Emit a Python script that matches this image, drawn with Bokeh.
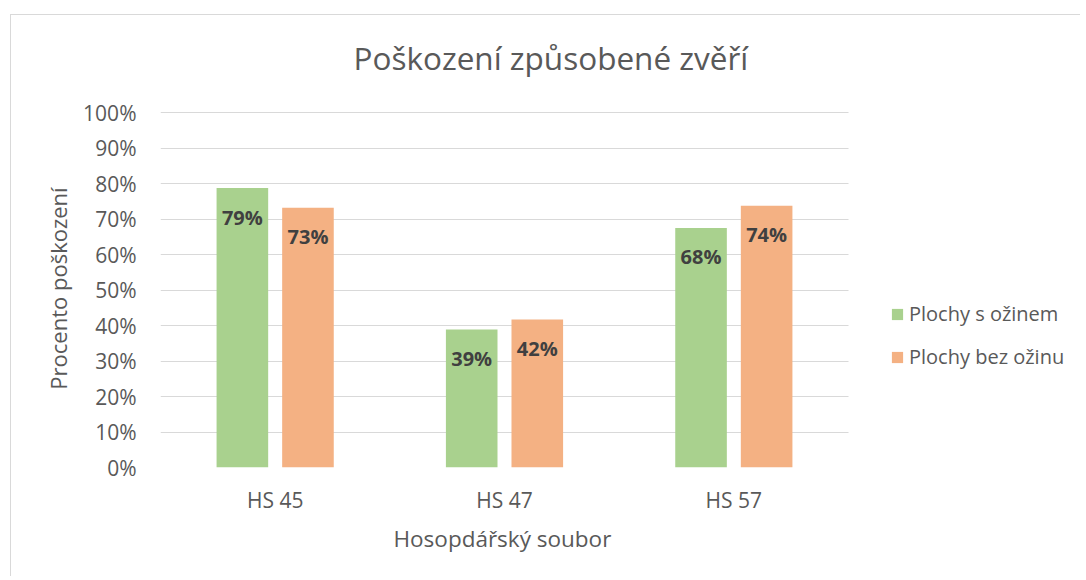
from bokeh.plotting import figure
from bokeh.models import (ColumnDataSource, Range1d, NumeralTickFormatter, FixedTicker,
                          LabelSet, Legend, LegendItem, Title)
from bokeh.core.properties import value
from bokeh.embed import file_html
from bokeh.resources import INLINE

categories = ["HS 45", "HS 47", "HS 57"]
s_ozinem = [0.787, 0.389, 0.675]
bez_oziny = [0.732, 0.417, 0.737]
series_names = ["Plochy s ožinem", "Plochy bez ožinu"]
colors = ["#A9D18E", "#F4B183"]
y_ticks = [i / 10 for i in range(11)]
chart_title = "Poškození způsobené zvěří"
x_title = "Hosopdářský soubor"
y_title = "Procento poškození"

FONT = "Open Sans"
TXT = "#595959"
OFF = 0.143
BAR_W = 0.225

pos = [i + 0.5 for i in range(len(categories))]
src = ColumnDataSource(dict(
    xa=[x - OFF for x in pos],
    xb=[x + OFF for x in pos],
    a=s_ozinem,
    b=bez_oziny,
    la=[f"{round(v*100)}%" for v in s_ozinem],
    lb=[f"{round(v*100)}%" for v in bez_oziny],
))

W, H = 1070, 562
LEFT, TOP, FW, FH = 149, 94, 688, 358
PX_PER_UNIT = 355.0
frame_w = W - LEFT
x_end = len(categories) * frame_w / FW

p = figure(width=W, height=H, x_range=Range1d(0, x_end), y_range=Range1d(0, FH / PX_PER_UNIT),
           output_backend="svg", toolbar_location=None,
           min_border_left=LEFT, min_border_right=0, min_border_top=TOP,
           min_border_bottom=H - TOP - FH)
p.margin = (14, 0, 0, 10)
p.styles = {"border-top": "1px solid #d9d9d9", "border-left": "1px solid #d9d9d9"}
p.outline_line_color = None
p.background_fill_color = "white"
p.border_fill_color = "white"

ra = p.vbar(x="xa", top="a", width=BAR_W, source=src, fill_color=colors[0], line_color=None)
rb = p.vbar(x="xb", top="b", width=BAR_W, source=src, fill_color=colors[1], line_color=None)

for xcol, col, lab in [("xa", "a", "la"), ("xb", "b", "lb")]:
    p.add_layout(LabelSet(x=xcol, y=col, text=lab, source=src,
                          text_align="center", text_baseline="middle", y_offset=-29,
                          text_font=value(FONT), text_font_style="bold", text_font_size="20px",
                          text_color="#404040"))

p.xaxis.ticker = FixedTicker(ticks=pos)
p.xaxis.major_label_overrides = {x: c for x, c in zip(pos, categories)}
p.yaxis.ticker = FixedTicker(ticks=y_ticks)
p.yaxis.formatter = NumeralTickFormatter(format="0%")
p.ygrid.grid_line_color = "#D9D9D9"
p.ygrid.grid_line_width = 1
p.ygrid.cross_bounds = (0, len(categories))
p.xgrid.grid_line_color = None

for ax in (p.xaxis, p.yaxis):
    ax.axis_line_color = None
    ax.major_tick_line_color = None
    ax.minor_tick_line_color = None
    ax.major_label_text_font = FONT
    ax.major_label_text_font_size = "21px"
    ax.major_label_text_color = TXT
    ax.axis_label_text_font = FONT
    ax.axis_label_text_font_size = "22px"
    ax.axis_label_text_font_style = "normal"
    ax.axis_label_text_color = TXT

p.yaxis.major_label_standoff = 18
p.yaxis.axis_label = y_title
p.yaxis.axis_label_standoff = 7
p.xaxis.major_label_standoff = 12

# x-axis title, aligned under the category area
p.add_layout(Title(text=x_title, align="left", offset=233, vertical_align="top",
                   text_font=FONT, text_font_size="22.5px", text_font_style="normal",
                   text_color=TXT, standoff=12), "below")

# spacer keeps the chart title high without enlarging the top border
p.add_layout(Title(text=" ", text_font_size="1px", standoff=28), "above")
p.title = Title(text=chart_title, align="left", offset=193,
                text_font=FONT, text_font_size="31.5px", text_font_style="normal",
                text_color=TXT, standoff=0)

legend = Legend(items=[LegendItem(label=series_names[0], renderers=[ra]),
                       LegendItem(label=series_names[1], renderers=[rb])],
                location=(730, 97), orientation="vertical",
                label_text_font=FONT, label_text_font_size="20px", label_text_color=TXT,
                glyph_width=14, glyph_height=14, label_height=24, spacing=16,
                label_standoff=5, padding=0, margin=0, border_line_color=None,
                background_fill_alpha=0)
p.add_layout(legend, "center")

open("out.html", "w").write(file_html(p, INLINE))
